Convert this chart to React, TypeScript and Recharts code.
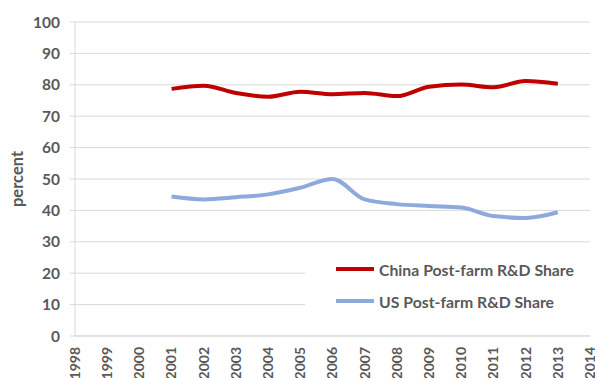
import React from 'react';
import { LineChart, Line, XAxis, YAxis, CartesianGrid, Legend } from 'recharts';

const years = ['1998','1999','2000','2001','2002','2003','2004','2005','2006','2007','2008','2009','2010','2011','2012','2013','2014'];
const chinaShare = [null,null,null,78.7,79.7,77.4,76.2,77.8,77.0,77.4,76.4,79.4,80.1,79.2,81.2,80.3,null];
const usShare = [null,null,null,44.4,43.5,44.2,45.1,47.2,50.0,43.5,42.0,41.4,40.9,38.2,37.6,39.4,null];
const yTicks = [0,10,20,30,40,50,60,70,80,90,100];

const data = years.map((y, i) => ({ year: y, china: chinaShare[i], us: usShare[i] }));

const FONT = 'Lato, "Open Sans", sans-serif';
const GRAY = '#595959';

const XTick = (props: any) => {
  const { x, y, payload } = props;
  return (
    <text x={x} y={y} transform={`rotate(-90, ${x}, ${y})`} textAnchor="end" dy="0.35em"
      fontFamily={FONT} fontWeight="bold" fontSize={14} fill={GRAY}>
      {payload.value}
    </text>
  );
};

const LegendContent = (props: any) => {
  const payload = props.payload || [];
  return (
    <div style={{ width: '100%', height: '100%', background: '#fff' }}>
      {payload.map((p: any, i: number) => (
        <div key={i} style={{ position: 'absolute', left: 31, top: 17 + i * 32 - 10, height: 20, display: 'flex', alignItems: 'center' }}>
          <svg width={40} height={20} style={{ display: 'block' }}>
            <line x1={0} y1={10} x2={38} y2={10} stroke={p.color} strokeWidth={4} />
          </svg>
          <span style={{ fontFamily: FONT, fontWeight: 'bold', fontSize: 15.8, color: GRAY, marginLeft: 3, whiteSpace: 'nowrap' }}>{p.value}</span>
        </div>
      ))}
    </div>
  );
};

export default function App() {
  return (
    <div style={{ position: 'absolute', left: 0, top: 0, width: 595, height: 378, background: '#fff' }}>
      <LineChart width={595} height={378} data={data} margin={{ top: 22, right: 5, bottom: 0, left: 0 }}>
        <CartesianGrid vertical={false} stroke="#d9d9d9" strokeWidth={1} />
        <XAxis dataKey="year" interval={0} height={42} axisLine={{ stroke: '#d9d9d9' }} tickLine={false}
          tick={<XTick />} tickSize={0} tickMargin={11} />
        <YAxis domain={[0, 100]} ticks={yTicks} interval={0} width={75}
          axisLine={{ stroke: '#d9d9d9' }} tickLine={{ stroke: '#d9d9d9' }} tickSize={5} tickMargin={10}
          tick={{ fontFamily: FONT, fontWeight: 'bold', fontSize: 15.5, fill: GRAY }}
          label={{ value: 'percent', angle: -90, position: 'center', dx: -20, style: { fontFamily: FONT, fontWeight: 'bold', fontSize: 16.5, fill: GRAY } }} />
        <Legend layout="horizontal" verticalAlign="middle" align="center"
          wrapperStyle={{ left: 305, top: 252, width: 290, height: 66 }}
          content={<LegendContent />} />
        <Line type="monotone" dataKey="china" name="China Post-farm R&D Share" stroke="#C00000" strokeWidth={4} dot={false} isAnimationActive={false} />
        <Line type="monotone" dataKey="us" name="US Post-farm R&D Share" stroke="#8EA9DB" strokeWidth={4} dot={false} isAnimationActive={false} />
      </LineChart>
    </div>
  );
}
